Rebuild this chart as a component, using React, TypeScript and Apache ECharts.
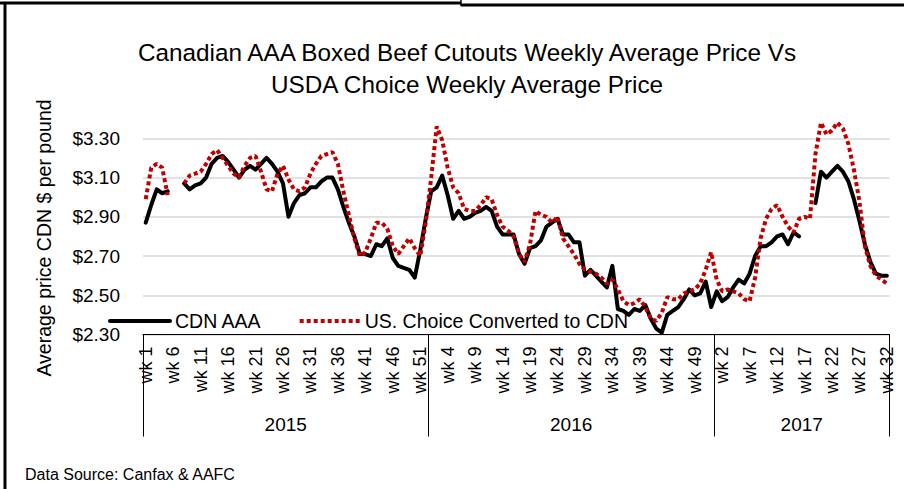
import React, { useEffect, useRef } from 'react';
import * as echarts from 'echarts';

const years = ['2015', '2016', '2017'];
const weeksPerYear = [52, 52, 32];

// CDN AAA weekly average price (CDN $/lb)
const cdnAAA: (number | null)[] = [
  // 2015
  2.87, 2.96, 3.04, 3.02, 3.03, null, null, 3.07, 3.04, 3.06,
  3.07, 3.10, 3.17, 3.20, 3.21, 3.18, 3.14, 3.10, 3.14, 3.16,
  3.14, 3.17, 3.20, 3.17, 3.13, 3.07, 2.90, 2.97, 3.01, 3.02,
  3.05, 3.05, 3.08, 3.10, 3.10, 3.04, 2.95, 2.87, 2.80, 2.71,
  2.71, 2.70, 2.76, 2.75, 2.79, 2.69, 2.65, 2.64, 2.63, 2.59,
  2.73, 2.89,
  // 2016
  3.03, 3.05, 3.11, 3.01, 2.89, 2.93, 2.89, 2.90, 2.92, 2.93,
  2.95, 2.93, 2.85, 2.81, 2.81, 2.81, 2.71, 2.66, 2.74, 2.75,
  2.78, 2.85, 2.87, 2.89, 2.81, 2.81, 2.77, 2.77, 2.60, 2.63,
  2.60, 2.57, 2.54, 2.65, 2.43, 2.42, 2.40, 2.43, 2.42, 2.45,
  2.38, 2.33, 2.31, 2.40, 2.42, 2.44, 2.48, 2.53, 2.50, 2.51,
  2.57, 2.44,
  // 2017
  2.52, 2.47, 2.49, 2.54, 2.58, 2.56, 2.61, 2.70, 2.75, 2.75,
  2.77, 2.80, 2.81, 2.76, 2.82, 2.80, null, null, 2.97, 3.13,
  3.10, 3.13, 3.16, 3.13, 3.08, 2.99, 2.88, 2.76, 2.67, 2.61,
  2.60, 2.60,
];

// US Choice converted to CDN $/lb
const usChoice: (number | null)[] = [
  // 2015
  2.99, 3.15, 3.17, 3.15, 3.01, null, null, 3.07, 3.11, 3.12,
  3.13, 3.17, 3.22, 3.24, 3.20, 3.16, 3.12, 3.10, 3.16, 3.20,
  3.21, 3.13, 3.04, 3.03, 3.12, 3.16, 3.09, 3.04, 3.03, 3.05,
  3.12, 3.17, 3.21, 3.22, 3.23, 3.17, 3.03, 2.91, 2.79, 2.70,
  2.72, 2.79, 2.87, 2.87, 2.84, 2.75, 2.71, 2.75, 2.79, 2.74,
  2.70, 2.87,
  // 2016
  3.10, 3.36, 3.29, 3.15, 3.05, 3.02, 2.94, 2.93, 2.93, 2.96,
  3.00, 2.99, 2.91, 2.85, 2.83, 2.80, 2.71, 2.67, 2.76, 2.93,
  2.91, 2.90, 2.87, 2.90, 2.79, 2.75, 2.71, 2.66, 2.63, 2.62,
  2.61, 2.59, 2.56, 2.58, 2.53, 2.47, 2.45, 2.46, 2.48, 2.44,
  2.38, 2.37, 2.41, 2.49, 2.48, 2.48, 2.51, 2.52, 2.53, 2.56,
  2.63, 2.72,
  // 2017
  2.58, 2.52, 2.53, 2.52, 2.51, 2.48, 2.47, 2.59, 2.79, 2.89,
  2.94, 2.96, 2.90, 2.85, 2.82, 2.89, 2.90, 2.89, 3.22, 3.38,
  3.32, 3.34, 3.38, 3.35, 3.27, 3.14, 2.98, 2.75, 2.65, 2.60,
  2.58, 2.56,
];

const seriesNames = ['CDN AAA', 'US. Choice Converted to CDN'];
const titleLines = [
  'Canadian AAA Boxed Beef Cutouts Weekly Average Price Vs',
  'USDA Choice Weekly Average Price',
];
const yAxisTitle = 'Average price CDN $ per pound';
const sourceNote = 'Data Source: Canfax & AAFC';

const FONT = '"Liberation Sans", Arial, sans-serif';

export default function App() {
  const ref = useRef<HTMLDivElement>(null);

  useEffect(() => {
    document.body.style.margin = '0';
    const chart = echarts.init(ref.current as HTMLDivElement, null, { renderer: 'svg' });

    const categories: string[] = [];
    years.forEach((y, k) => {
      for (let w = 1; w <= weeksPerYear[k]; w++) categories.push(y + '|' + w);
    });
    const bounds: number[] = [0];
    let acc = 0;
    weeksPerYear.forEach((n) => {
      acc += n;
      bounds.push(acc);
    });
    const mids = years.map((_, k) => (bounds[k] + bounds[k + 1]) / 2);

    const option: any = {
      animation: false,
      backgroundColor: '#ffffff',
      textStyle: { fontFamily: FONT },
      title: {
        text: titleLines.join('\n'),
        left: 462,
        top: 31,
        textAlign: 'center',
        textStyle: {
          fontFamily: FONT,
          fontSize: 24.3,
          fontWeight: 'normal',
          color: '#000',
          lineHeight: 32,
        },
      },
      legend: {
        data: seriesNames,
        left: 103,
        top: 306,
        itemWidth: 60,
        itemHeight: 14,
        itemGap: 36,
        itemStyle: { opacity: 0 },
        lineStyle: { width: 4 },
        textStyle: { fontFamily: FONT, fontSize: 19.5, color: '#000' },
      },
      grid: { left: 143, right: 14.4, top: 118.7, bottom: 154.5 },
      xAxis: [
        {
          type: 'category',
          position: 'bottom',
          data: categories,
          boundaryGap: true,
          axisLine: { show: true, onZero: false, lineStyle: { color: '#000', width: 1 } },
          axisTick: { show: false },
          axisLabel: {
            interval: 4,
            rotate: 90,
            margin: 12,
            fontSize: 18,
            color: '#000',
            fontFamily: FONT,
            formatter: (v: string) => 'wk ' + v.split('|')[1],
          },
          splitLine: { show: false },
        },
        {
          type: 'value',
          position: 'bottom',
          min: 0,
          max: acc,
          axisLine: { show: false },
          splitLine: { show: false },
          axisTick: {
            show: true,
            customValues: bounds,
            length: 102,
            lineStyle: { color: '#000', width: 1 },
          },
          axisLabel: {
            customValues: mids,
            margin: 80,
            fontSize: 19,
            color: '#000',
            fontFamily: FONT,
            formatter: (v: number) => {
              const k = mids.indexOf(v);
              return k >= 0 ? years[k] : '';
            },
          },
        },
      ],
      yAxis: {
        type: 'value',
        min: 2.3,
        max: 3.4,
        interval: 0.1,
        axisLine: { show: false },
        axisTick: { show: false },
        axisLabel: {
          margin: 23,
          fontSize: 19,
          color: '#000',
          fontFamily: FONT,
          formatter: (v: number) => {
            const k = Math.round(v * 10);
            return k % 2 === 1 && k <= 33 ? '$' + (k / 10).toFixed(2) : '';
          },
        },
        splitLine: {
          show: true,
          lineStyle: { color: ['#d9d9d9', 'rgba(0,0,0,0)'], width: 1.5 },
        },
      },
      series: [
        {
          name: seriesNames[0],
          type: 'line',
          data: cdnAAA,
          symbol: 'none',
          connectNulls: false,
          lineStyle: { color: '#000', width: 4, join: 'round', cap: 'round' },
          itemStyle: { color: '#000' },
          z: 2,
        },
        {
          name: seriesNames[1],
          type: 'line',
          data: usChoice,
          symbol: 'none',
          connectNulls: false,
          lineStyle: { color: '#C00000', width: 4, type: [4, 3], cap: 'butt' },
          itemStyle: { color: '#C00000' },
          z: 3,
        },
      ],
      graphic: [
        {
          type: 'text',
          x: 44,
          y: 238,
          rotation: Math.PI / 2,
          style: {
            text: yAxisTitle,
            fontSize: 19.5,
            fontFamily: FONT,
            fill: '#000',
            align: 'center',
            verticalAlign: 'middle',
          },
        },
        {
          type: 'text',
          left: 25,
          top: 466,
          style: { text: sourceNote, fontSize: 16, fontFamily: FONT, fill: '#000' },
        },
        { type: 'line', shape: { x1: 0, y1: 3, x2: 461, y2: 3 }, style: { stroke: '#000', lineWidth: 3 } },
        { type: 'line', shape: { x1: 461, y1: 0, x2: 461, y2: 6 }, style: { stroke: '#000', lineWidth: 1.5 } },
        { type: 'line', shape: { x1: 461, y1: 5, x2: 904, y2: 5 }, style: { stroke: '#000', lineWidth: 3 } },
        { type: 'line', shape: { x1: 5, y1: 3, x2: 5, y2: 489 }, style: { stroke: '#000', lineWidth: 3 } },
      ],
    };

    chart.setOption(option);
    return () => chart.dispose();
  }, []);

  return (
    <div
      ref={ref}
      style={{ position: 'absolute', left: 0, top: 0, width: 904, height: 489, background: '#fff' }}
    />
  );
}
